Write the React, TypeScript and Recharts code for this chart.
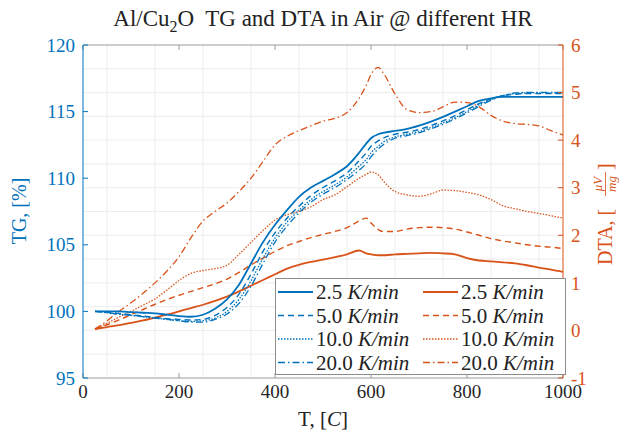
import React from "react";
import { LineChart, Line, XAxis, YAxis, CartesianGrid, Legend } from "recharts";

// temperature grid, °C
const TEMP = [25, 50, 75, 100, 125, 150, 175, 200, 225, 250, 275, 300, 325, 350, 375, 400, 425, 450, 475, 500, 525, 550, 575, 590, 600, 615, 625, 650, 675, 700, 725, 750, 775, 800, 825, 850, 875, 900, 925, 950, 975, 1000];

// TG, %
const TG_2_5 = [100.0, 100.0, 100.0, 99.95, 99.9, 99.85, 99.75, 99.65, 99.6, 99.75, 100.2, 100.9, 102.0, 103.6, 105.2, 106.5, 107.6, 108.6, 109.3, 109.8, 110.3, 110.9, 111.9, 112.6, 113.0, 113.3, 113.4, 113.55, 113.7, 113.95, 114.25, 114.6, 115.0, 115.4, 115.8, 116.0, 116.1, 116.1, 116.1, 116.1, 116.1, 116.1];
const TG_5_0 = [100.0, 99.95, 99.85, 99.75, 99.65, 99.55, 99.45, 99.4, 99.35, 99.4, 99.7, 100.3, 101.3, 102.8, 104.5, 105.9, 107.0, 107.9, 108.7, 109.3, 109.8, 110.4, 111.3, 111.9, 112.4, 112.8, 113.0, 113.3, 113.45, 113.65, 113.95, 114.3, 114.7, 115.15, 115.6, 115.95, 116.2, 116.3, 116.35, 116.35, 116.35, 116.35];
const TG_10 = [100.0, 99.9, 99.8, 99.7, 99.6, 99.5, 99.4, 99.3, 99.25, 99.3, 99.5, 100.0, 100.9, 102.3, 104.0, 105.5, 106.7, 107.6, 108.4, 109.0, 109.5, 110.1, 110.9, 111.4, 111.9, 112.4, 112.7, 113.1, 113.3, 113.5, 113.8, 114.15, 114.55, 115.0, 115.5, 115.9, 116.2, 116.35, 116.4, 116.4, 116.4, 116.4];
const TG_20 = [100.0, 99.9, 99.8, 99.7, 99.6, 99.5, 99.4, 99.3, 99.2, 99.2, 99.4, 99.8, 100.6, 101.9, 103.6, 105.2, 106.4, 107.4, 108.2, 108.8, 109.3, 109.9, 110.6, 111.1, 111.6, 112.2, 112.5, 113.0, 113.2, 113.4, 113.7, 114.05, 114.45, 114.9, 115.4, 115.85, 116.2, 116.4, 116.45, 116.45, 116.45, 116.45];

// DTA, uV/mg
const DTA_2_5 = [0.03, 0.07, 0.11, 0.16, 0.21, 0.27, 0.33, 0.4, 0.47, 0.54, 0.62, 0.71, 0.82, 0.94, 1.06, 1.18, 1.3, 1.38, 1.44, 1.49, 1.54, 1.6, 1.68, 1.62, 1.6, 1.58, 1.58, 1.6, 1.61, 1.62, 1.63, 1.62, 1.6, 1.52, 1.47, 1.45, 1.43, 1.41, 1.37, 1.32, 1.28, 1.23];
const DTA_5_0 = [0.03, 0.12, 0.22, 0.33, 0.44, 0.55, 0.65, 0.74, 0.82, 0.9, 0.98, 1.08, 1.22, 1.38, 1.52, 1.66, 1.78, 1.87, 1.95, 2.02, 2.08, 2.16, 2.3, 2.36, 2.26, 2.12, 2.08, 2.08, 2.13, 2.16, 2.17, 2.16, 2.13, 2.07, 2.0, 1.93, 1.88, 1.84, 1.8, 1.77, 1.75, 1.72];
const DTA_10 = [0.03, 0.15, 0.28, 0.4, 0.53, 0.66, 0.85, 1.05, 1.2, 1.26, 1.3, 1.37, 1.6, 1.85, 2.1, 2.32, 2.43, 2.5, 2.6, 2.75, 2.85, 3.02, 3.2, 3.28, 3.33, 3.27, 3.15, 2.92, 2.85, 2.82, 2.87, 2.95, 2.94, 2.9, 2.85, 2.75, 2.62, 2.56, 2.5, 2.46, 2.41, 2.36];
const DTA_20 = [0.03, 0.2, 0.4, 0.58, 0.78, 1.0, 1.25, 1.55, 1.95, 2.3, 2.5, 2.68, 2.92, 3.2, 3.55, 3.9, 4.08, 4.2, 4.3, 4.4, 4.46, 4.58, 4.88, 5.15, 5.38, 5.53, 5.42, 4.97, 4.64, 4.58, 4.6, 4.7, 4.8, 4.79, 4.7, 4.52, 4.4, 4.35, 4.33, 4.3, 4.2, 4.11];

const X_TICKS = [0, 200, 400, 600, 800, 1000];
const X_MINOR = [50, 100, 150, 200, 250, 300, 350, 400, 450, 500, 550, 600, 650, 700, 750, 800, 850, 900, 950];
const TG_TICKS = [95, 100, 105, 110, 115, 120];
const DTA_TICKS = [-1, 0, 1, 2, 3, 4, 5, 6];
const DTA_MINOR = [-0.5, 0, 0.5, 1, 1.5, 2, 2.5, 3, 3.5, 4, 4.5, 5, 5.5];
const RATES = ["2.5", "5.0", "10.0", "20.0"];

const BLUE = "#0072BD";
const ORANGE = "#D95319";
const SERIF = "Liberation Serif, Times New Roman, Times, DejaVu Serif, serif";

const DASHES = [undefined, "6 4", "1.5 1.5", "7 3 1.5 3"];
const WIDTHS = [1.8, 1.4, 1.3, 1.3];

const TG_KEYS = ["tg25", "tg50", "tg100", "tg200"];
const DTA_KEYS = ["dta25", "dta50", "dta100", "dta200"];

const data = TEMP.map((t, i) => ({
  t,
  tg25: TG_2_5[i],
  tg50: TG_5_0[i],
  tg100: TG_10[i],
  tg200: TG_20[i],
  dta25: DTA_2_5[i],
  dta50: DTA_5_0[i],
  dta100: DTA_10[i],
  dta200: DTA_20[i],
}));

const makeTick = (fill: string, anchor: string, dy: string) => (p: any) => (
  <text x={p.x} y={p.y} dy={dy} textAnchor={anchor} fontFamily={SERIF} fontSize={19} fill={fill}>
    {p.payload.value}
  </text>
)

function Title(props: any) {
  const { x, y, width } = props.viewBox
  return (
    <text x={x + width / 2} y={y - 18} textAnchor="middle" fontFamily={SERIF} fontSize={23} fill="#222" style={{ whiteSpace: "pre" }}>
      Al/Cu<tspan dy={6} fontSize={16}>2</tspan><tspan dy={-6}>O  TG and DTA in Air @ different HR</tspan>
    </text>
  )
}

function XLabel(props: any) {
  const { x, y, width } = props.viewBox
  return (
    <text x={x + width / 2} y={y + 48} textAnchor="middle" fontFamily={SERIF} fontSize={21} fill="#222" style={{ whiteSpace: "pre" }}>
      T, [<tspan fontStyle="italic">C</tspan>]
    </text>
  )
}

function TgLabel() {
  return (
    <text transform="translate(26,211) rotate(-90)" textAnchor="middle" fontFamily={SERIF} fontSize={20} fill={BLUE}>
      TG, [%]
    </text>
  )
}

function DtaLabel() {
  return (
    <g transform="translate(605,211) rotate(-90)" fontFamily={SERIF} fill={ORANGE}>
      <text x={-54} y={7} fontSize={20} style={{ whiteSpace: "pre" }}>DTA, [</text>
      <text x={27} y={-3} fontSize={13} fontStyle="italic" textAnchor="middle">μV</text>
      <line x1={15} x2={39} y1={0.5} y2={0.5} stroke={ORANGE} strokeWidth={0.8} />
      <text x={27} y={11} fontSize={13} fontStyle="italic" textAnchor="middle">mg</text>
      <text x={41} y={7} fontSize={20}>]</text>
    </g>
  )
}

function LegendBox() {
  const col = (color: string, left: number) =>
    RATES.map((r, i) => {
      const cy = 14 + i * 23.5
      return (
        <g key={color + r}>
          <line x1={left} x2={left + 35} y1={cy} y2={cy} stroke={color} strokeWidth={WIDTHS[i]} strokeDasharray={DASHES[i]} />
          <text x={left + 38} y={cy + 7} fontFamily={SERIF} fontSize={21} fill="#222" style={{ whiteSpace: "pre" }}>
            {r} <tspan fontStyle="italic">K/min</tspan>
          </text>
        </g>
      )
    })
  return (
    <svg width={291} height={97} style={{ display: "block" }}>
      <rect x={0.5} y={0.5} width={290} height={96} fill="#fff" stroke="#8c8c8c" />
      {col(BLUE, 3)}
      {col(ORANGE, 148)}
    </svg>
  )
}

export default function App() {
  return (
    <div style={{ position: "absolute", left: 0, top: 0, width: 635, height: 441, background: "#fff" }}>
      <LineChart width={635} height={441} data={data} margin={{ top: 44, right: 0, bottom: 0, left: 0 }}>
        <CartesianGrid
          xAxisId="x"
          yAxisId="dta"
          stroke="#e8e8e8"
          strokeWidth={0.8}
          verticalValues={X_MINOR}
          horizontalValues={DTA_MINOR}
        />

        <XAxis
          xAxisId="x"
          dataKey="t"
          type="number"
          domain={[0, 1000]}
          ticks={X_TICKS}
          height={63}
          tickSize={-5}
          tickMargin={10}
          tick={makeTick("#262626", "middle", "0.8em")}
          stroke="#9a9a9a"
          label={<XLabel />}
        />
        <XAxis
          xAxisId="top"
          orientation="top"
          dataKey="t"
          type="number"
          domain={[0, 1000]}
          ticks={X_TICKS}
          height={1}
          tickSize={-5}
          tick={() => <g />}
          stroke="#9a9a9a"
          label={<Title />}
        />
        <YAxis
          yAxisId="tg"
          orientation="left"
          type="number"
          domain={[95, 120]}
          ticks={TG_TICKS}
          width={83}
          tickSize={-5}
          tickMargin={13}
          tick={makeTick(BLUE, "end", "0.35em")}
          stroke={BLUE}
          label={<TgLabel />}
        />
        <YAxis
          yAxisId="dta"
          orientation="right"
          type="number"
          domain={[-1, 6]}
          ticks={DTA_TICKS}
          width={72}
          tickSize={-5}
          tickMargin={13}
          tick={makeTick(ORANGE, "start", "0.35em")}
          stroke={ORANGE}
          label={<DtaLabel />}
        />

        {DTA_KEYS.map((k, i) => (
          <Line
            key={k}
            xAxisId="x"
            yAxisId="dta"
            dataKey={k}
            type="monotone"
            stroke={ORANGE}
            strokeWidth={WIDTHS[i]}
            strokeDasharray={DASHES[i]}
            dot={false}
            isAnimationActive={false}
          />
        ))}
        {TG_KEYS.map((k, i) => (
          <Line
            key={k}
            xAxisId="x"
            yAxisId="tg"
            dataKey={k}
            type="monotone"
            stroke={BLUE}
            strokeWidth={WIDTHS[i]}
            strokeDasharray={DASHES[i]}
            dot={false}
            isAnimationActive={false}
          />
        ))}

        <Legend
          layout="vertical"
          align="center"
          verticalAlign="middle"
          content={() => <LegendBox />}
          wrapperStyle={{ left: 275, top: 278, width: 291, height: 97 }}
        />
      </LineChart>
    </div>
  )
}
